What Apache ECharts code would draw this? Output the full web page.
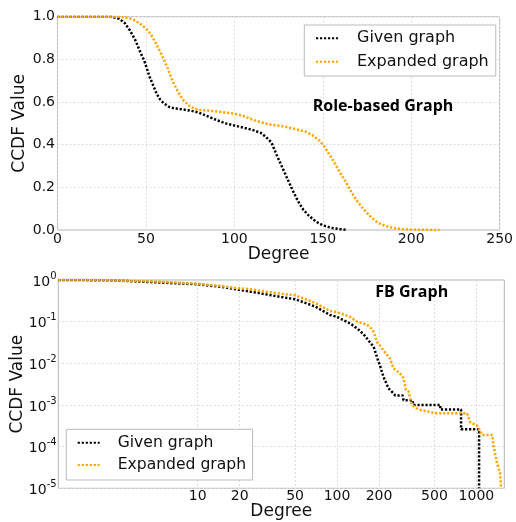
<!DOCTYPE html>
<html><head><meta charset="utf-8">
<script src="https://cdn.jsdelivr.net/npm/echarts@6/dist/echarts.min.js"></script>
<style>html,body{margin:0;padding:0;background:#fff}#c{width:516px;height:522px}</style>
</head><body><div id="c"></div>
<script>
// ---- Data ----
const seriesNames = ['Given graph', 'Expanded graph'];
const roleXTicks = [0, 50, 100, 150, 200, 250];
const roleYTicks = [0, 0.2, 0.4, 0.6, 0.8, 1.0];
const roleGivenDeg = [0,30,35,38,41,44,47,49,52,54,56,58,60,63,66,70,75,80,85,90,95,100,105,110,115,118,121,124,127,130,133,136,139,142,146,150,155,160,163];
const roleGivenCcdf = [1,1,0.99,0.97,0.935,0.89,0.83,0.795,0.72,0.68,0.64,0.612,0.595,0.578,0.57,0.566,0.56,0.55,0.533,0.515,0.5,0.49,0.48,0.47,0.455,0.435,0.41,0.35,0.295,0.24,0.185,0.135,0.095,0.068,0.04,0.022,0.01,0.004,0.001];
const roleExpDeg = [0,35,40,44,47,50,53,56,59,62,65,68,71,74,77,80,90,100,105,110,115,120,127,135,140,144,148,151,154,157,160,163,166,169,172,175,178,181,185,190,195,200,208,216];
const roleExpCcdf = [1,1,0.995,0.982,0.965,0.945,0.915,0.87,0.82,0.765,0.70,0.65,0.61,0.585,0.57,0.563,0.556,0.545,0.535,0.518,0.505,0.495,0.487,0.472,0.462,0.445,0.42,0.39,0.35,0.31,0.265,0.225,0.18,0.14,0.108,0.08,0.055,0.035,0.02,0.009,0.004,0.002,0.0008,0];

const fbXTicks = [10, 20, 50, 100, 200, 500, 1000];
const fbXRange = [1, 1585];
const fbYRange = [1e-5, 1];
const fbGivenDeg = [1,2,3,5,7,10,15,20,24,30,40,50,70,89,100,124,140,155,172,183,195,204,215,234,250,261,295,300,348,352,551,551,776,776,1045,1045];
const fbGivenCcdf = [1,0.99,0.95,0.88,0.83,0.79,0.68,0.58,0.525,0.46,0.39,0.345,0.23,0.145,0.13,0.091,0.068,0.05,0.032,0.025,0.013,0.0085,0.0048,0.0025,0.002,0.0017,0.0017,0.0013,0.0013,0.001,0.001,0.00078,0.00078,0.00026,0.00026,0.00001];
const fbExpDeg = [1,2,3,5,7,10,15,20,24,30,40,50,70,89,100,124,139,164,175,183,193,204,228,240,254,282,300,312,326,344,373,396,520,857,905,1012,1099,1297,1330,1406,1480,1500];
const fbExpCcdf = [1,0.995,0.96,0.92,0.87,0.81,0.71,0.63,0.6,0.53,0.47,0.43,0.28,0.18,0.17,0.13,0.1,0.085,0.07,0.057,0.033,0.026,0.016,0.013,0.0076,0.0058,0.0044,0.0023,0.0021,0.001,0.00083,0.00076,0.00063,0.00063,0.00038,0.00032,0.00019,0.00019,0.0001,0.00004,0.000023,0.00001];

// ---- Chart ----
const FONT = 'DejaVu Sans';
const colors = ['#000000', '#FFA500'];
const gridLine = { show: true, lineStyle: { color: '#dcdcdc', width: 1, type: [2, 2] } };
const lineStyleFor = (i) => ({ color: colors[i], width: 2.5, type: [2.2, 1.8], cap: 'butt' });
const pairs = (xs, ys, fx) => xs.map((x, i) => [fx ? fx(x) : x, ys[i]]);
const lg = (v) => Math.log10(v);

function mkSeries(name, i, data, axisIdx) {
  return {
    name, type: 'line', xAxisIndex: axisIdx, yAxisIndex: axisIdx,
    data, showSymbol: false, symbol: 'none', smooth: false, clip: true,
    lineStyle: lineStyleFor(i), itemStyle: { color: colors[i] },
    emphasis: { disabled: true }, animation: false
  };
}

const chart = echarts.init(document.getElementById('c'), null, { renderer: 'canvas' });
const legendBase = {
  orient: 'vertical', itemWidth: 22, itemHeight: 14,
  backgroundColor: '#fff', borderColor: '#bbbbbb', borderWidth: 1, borderRadius: 0,
  data: seriesNames, selectedMode: false,
  itemStyle: { opacity: 0 }
};
chart.setOption({
  animation: false,
  backgroundColor: '#fff',
  title: [
    { text: 'Role-based Graph', left: 312.7, top: 96, padding: 0,
      textStyle: { fontFamily: 'Open Sans', fontWeight: 'bold', fontSize: 16, lineHeight: 20, color: '#000' } },
    { text: 'FB Graph', left: 375.3, top: 282.3, padding: 0,
      textStyle: { fontFamily: 'Open Sans', fontWeight: 'bold', fontSize: 16, lineHeight: 20, color: '#000' } }
  ],
  legend: [
    Object.assign({}, legendBase, {
      left: 304.3, top: 25, padding: [5.3, 7, 6.3, 10.7], itemGap: 7.4,
      textStyle: { fontFamily: FONT, fontSize: 16, lineHeight: 16, color: '#111', padding: [0, 0, 0, 14] }
    }),
    Object.assign({}, legendBase, {
      left: 66.3, top: 429.3, padding: [5.4, 6.5, 7, 10.4], itemGap: 6.3,
      textStyle: { fontFamily: FONT, fontSize: 15.6, lineHeight: 16, color: '#111', padding: [0, 0, 0, 13] }
    })
  ],
  grid: [
    { left: 57.5, top: 16.7, width: 444, height: 213.3, show: true, borderColor: '#b3b3b3', borderWidth: 1, containLabel: false },
    { left: 58.3, top: 280, width: 446, height: 208.3, show: true, borderColor: '#b3b3b3', borderWidth: 1, containLabel: false }
  ],
  xAxis: [
    { type: 'value', gridIndex: 0, min: roleXTicks[0], max: roleXTicks[roleXTicks.length - 1], interval: 50,
      axisLine: { show: false }, axisTick: { show: false }, splitLine: gridLine,
      axisLabel: { fontFamily: FONT, fontSize: 14, color: '#111', margin: 2 },
      name: 'Degree', nameLocation: 'middle', nameGap: 16, nameMoveOverlap: false,
      nameTextStyle: { fontFamily: FONT, fontSize: 17, color: '#111', lineHeight: 17 } },
    { type: 'value', gridIndex: 1, min: lg(fbXRange[0]), max: lg(fbXRange[1]),
      axisLine: { show: false },
      axisTick: { show: false, customValues: fbXTicks.map(lg) },
      splitLine: gridLine,
      axisLabel: { fontFamily: FONT, fontSize: 14, color: '#111', margin: 1,
        customValues: fbXTicks.map(lg),
        formatter: (v) => String(Math.round(Math.pow(10, v))) },
      name: 'Degree', nameLocation: 'middle', nameGap: 15, nameMoveOverlap: false,
      nameTextStyle: { fontFamily: FONT, fontSize: 17, color: '#111', lineHeight: 17 } }
  ],
  yAxis: [
    { type: 'value', gridIndex: 0, min: roleYTicks[0], max: roleYTicks[roleYTicks.length - 1], interval: 0.2,
      axisLine: { show: false }, axisTick: { show: false }, splitLine: gridLine,
      axisLabel: { fontFamily: FONT, fontSize: 14, color: '#111', margin: 2.5, formatter: (v) => v.toFixed(1) },
      name: 'CCDF Value', nameLocation: 'middle', nameGap: 29, nameMoveOverlap: false,
      nameTextStyle: { fontFamily: FONT, fontSize: 17, color: '#111', lineHeight: 17 } },
    { type: 'log', logBase: 10, gridIndex: 1, min: fbYRange[0], max: fbYRange[1],
      axisLine: { show: false }, axisTick: { show: false }, splitLine: gridLine,
      axisLabel: { margin: 1.7,
        formatter: (v) => '{b|10}{s|' + Math.round(Math.log10(v)) + '}',
        rich: {
          b: { fontFamily: FONT, fontSize: 14, color: '#111', lineHeight: 18, verticalAlign: 'bottom' },
          s: { fontFamily: FONT, fontSize: 10, color: '#111', lineHeight: 8, verticalAlign: 'top' }
        } },
      name: 'CCDF Value', nameLocation: 'middle', nameGap: 32.5, nameMoveOverlap: false,
      nameTextStyle: { fontFamily: FONT, fontSize: 17, color: '#111', lineHeight: 17 } }
  ],
  series: [
    mkSeries(seriesNames[0], 0, pairs(roleGivenDeg, roleGivenCcdf), 0),
    mkSeries(seriesNames[1], 1, pairs(roleExpDeg, roleExpCcdf), 0),
    mkSeries(seriesNames[0], 0, pairs(fbGivenDeg, fbGivenCcdf, lg), 1),
    mkSeries(seriesNames[1], 1, pairs(fbExpDeg, fbExpCcdf, lg), 1)
  ]
});
</script>
</body></html>
